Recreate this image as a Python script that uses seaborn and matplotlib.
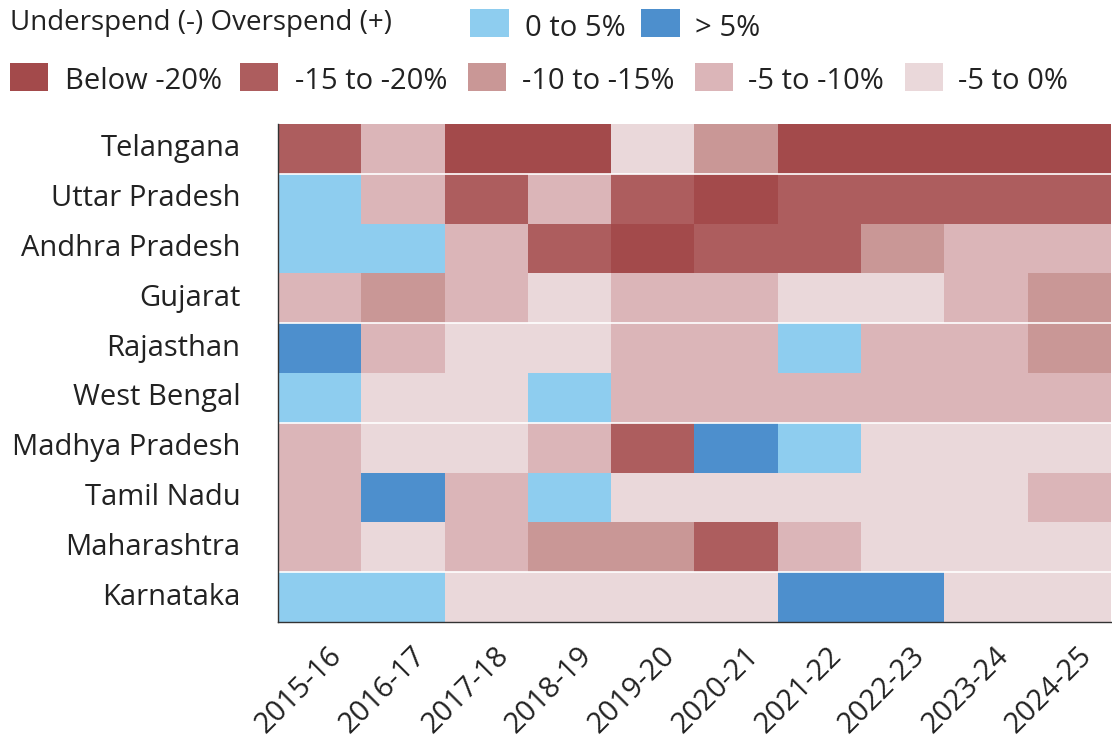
import numpy as np
import pandas as pd
import seaborn as sns
import matplotlib.pyplot as plt
import matplotlib.transforms as mtransforms
from matplotlib.colors import ListedColormap
from matplotlib.patches import Rectangle

sns.set_style("white")
plt.rcParams['font.family'] = ['Open Sans', 'DejaVu Sans']

years = ["2015-16", "2016-17", "2017-18", "2018-19", "2019-20",
         "2020-21", "2021-22", "2022-23", "2023-24", "2024-25"]
states = ["Telangana", "Uttar Pradesh", "Andhra Pradesh", "Gujarat", "Rajasthan",
          "West Bengal", "Madhya Pradesh", "Tamil Nadu", "Maharashtra", "Karnataka"]
categories = ["Below -20%", "-15 to -20%", "-10 to -15%", "-5 to -10%", "-5 to 0%",
              "0 to 5%", "> 5%"]
colors = ["#a34a4b", "#ad5d5e", "#c99796", "#dbb5b8", "#ead8da", "#8ecdef", "#4d8fcd"]

# category index per state (row) and year (column)
telangana = [1, 3, 0, 0, 4, 2, 0, 0, 0, 0]
uttar_pradesh = [5, 3, 1, 3, 1, 0, 1, 1, 1, 1]
andhra_pradesh = [5, 5, 3, 1, 0, 1, 1, 2, 3, 3]
gujarat = [3, 2, 3, 4, 3, 3, 4, 4, 3, 2]
rajasthan = [6, 3, 4, 4, 3, 3, 5, 3, 3, 2]
west_bengal = [5, 4, 4, 5, 3, 3, 3, 3, 3, 3]
madhya_pradesh = [3, 4, 4, 3, 1, 6, 5, 4, 4, 4]
tamil_nadu = [3, 6, 3, 5, 4, 4, 4, 4, 4, 3]
maharashtra = [3, 4, 3, 2, 2, 1, 3, 4, 4, 4]
karnataka = [5, 5, 4, 4, 4, 4, 6, 6, 4, 4]

data = pd.DataFrame([telangana, uttar_pradesh, andhra_pradesh, gujarat, rajasthan,
                     west_bengal, madhya_pradesh, tamil_nadu, maharashtra, karnataka],
                    index=states, columns=years)

fig = plt.figure(figsize=(11.12, 7.4), dpi=100)
ax = fig.add_axes([0.25, 0.1595, 0.749, 0.673])
cmap = ListedColormap(colors)
sns.heatmap(data, ax=ax, cmap=cmap, vmin=-0.5, vmax=6.5, cbar=False,
            linewidths=0, square=False)

for y in [1, 4, 6, 9]:
    ax.axhline(y, color="white", lw=1.2)

for side in ["left", "bottom"]:
    ax.spines[side].set_visible(True)
    ax.spines[side].set_color("#333333")
    ax.spines[side].set_linewidth(1.0)
ax.tick_params(axis="both", which="major", length=9, width=1.0, color="#333333",
               labelsize=21, labelcolor="#222222")
ax.tick_params(axis="y", pad=18)
ax.tick_params(axis="x", pad=5)
ax.set_xticklabels(years, rotation=45, ha="right", rotation_mode="anchor")
ax.set_yticklabels(states, rotation=0)
offset = mtransforms.ScaledTranslation(0.08, 0.0, fig.dpi_scale_trans)
for lab in ax.get_xticklabels():
    lab.set_transform(lab.get_transform() + offset)
ax.set_xlabel("")
ax.set_ylabel("")

# legend
W, H = 1112.0, 740.0
def patch(x, y, w, h, c):
    fig.patches.append(Rectangle((x / W, 1 - (y + h) / H), w / W, h / H,
                                 transform=fig.transFigure, facecolor=c,
                                 edgecolor="none"))

def label(x, y, s, size=21):
    fig.text(x / W, 1 - y / H, s, fontsize=size, color="#222222",
             va="baseline", ha="left")

label(10, 30, "Underspend (-) Overspend (+)", size=20)
patch(470, 9, 39, 28, colors[5]); label(525, 36, categories[5])
patch(641, 9, 39, 28, colors[6]); label(695, 36, categories[6])

row2 = [(10, 65), (240, 295), (468, 522), (695, 748), (905, 958)]
for i, (px, tx) in enumerate(row2):
    patch(px, 63, 38, 28, colors[i])
    label(tx, 89, categories[i])

fig.savefig("out.png", dpi=100)
